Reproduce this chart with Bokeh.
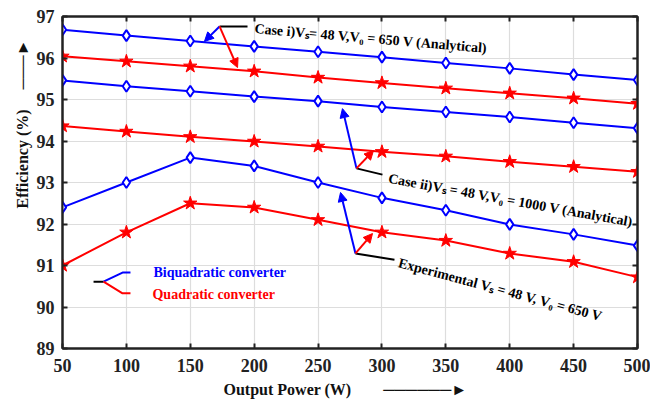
from bokeh.plotting import figure
from bokeh.models import (Arrow, NormalHead, Label, LinearAxis, FixedTicker, Range1d, Grid,
                          CustomJSTickFormatter, Title)
from bokeh.embed import file_html
from bokeh.resources import INLINE

power = [50, 100, 150, 200, 250, 300, 350, 400, 450, 500]
bi_case1 = [96.68, 96.54, 96.41, 96.28, 96.15, 96.02, 95.88, 95.75, 95.6, 95.47]
quad_case1 = [96.04, 95.92, 95.8, 95.68, 95.53, 95.4, 95.27, 95.15, 95.03, 94.9]
bi_case2 = [95.46, 95.32, 95.2, 95.07, 94.96, 94.82, 94.7, 94.58, 94.44, 94.31]
quad_case2 = [94.36, 94.23, 94.1, 93.99, 93.87, 93.74, 93.63, 93.5, 93.38, 93.26]
bi_exp = [92.4, 93.0, 93.6, 93.4, 93.0, 92.63, 92.33, 91.99, 91.75, 91.48]
quad_exp = [91.0, 91.8, 92.5, 92.4, 92.1, 91.8, 91.6, 91.29, 91.09, 90.72]
x_ticks = [50, 100, 150, 200, 250, 300, 350, 400, 450, 500]
y_ticks = [89, 90, 91, 92, 93, 94, 95, 96, 97]

BLUE = "#0000ff"
RED = "#ff0000"
FONT = "Liberation Serif"

p = figure(width=650, height=402, output_backend="svg", toolbar_location=None,
           x_range=Range1d(50, 500), y_range=Range1d(89, 97),
           min_border_left=62, min_border_right=13, min_border_top=16, min_border_bottom=54,
           x_axis_location=None, y_axis_location=None)
p.outline_line_color = "#222222"
p.outline_line_width = 2
p.background_fill_color = "white"

def style_axis(ax, ticks, labels=True):
    ax.ticker = FixedTicker(ticks=ticks)
    ax.major_tick_in = 5
    ax.major_tick_out = 0
    ax.minor_tick_line_color = None
    ax.axis_line_width = 2
    ax.axis_line_color = "#222222"
    ax.major_tick_line_width = 2
    ax.major_tick_line_color = "#222222"
    ax.major_label_text_font = FONT
    ax.major_label_text_font_style = "bold"
    ax.major_label_text_font_size = "18px"
    ax.major_label_text_color = "#222222"
    if not labels:
        ax.formatter = CustomJSTickFormatter(code="return ''")

xb = LinearAxis(); style_axis(xb, x_ticks); xb.major_label_standoff = 10
xt = LinearAxis(); style_axis(xt, x_ticks, labels=False)
yl = LinearAxis(); style_axis(yl, y_ticks); yl.major_label_standoff = 8
yr = LinearAxis(); style_axis(yr, y_ticks, labels=False)
p.add_layout(xb, "below")
p.add_layout(xt, "above")
p.add_layout(yl, "left")
p.add_layout(yr, "right")

# axis titles (outside the frame), each followed by its arrow
EM = "\u2003"
LINE = "\u2500"
HEAD = "\u25BA"
p.add_layout(Title(text="Efficiency (%)" + EM + " " + LINE * 3 + HEAD,
                   align="left", offset=140, standoff=6,
                   text_font=FONT, text_font_style="bold", text_font_size="16px",
                   text_color="#111111"), "left")
p.add_layout(Title(text="Output Power (W)" + EM * 2 + LINE * 6 + HEAD,
                   align="left", offset=161, standoff=8,
                   text_font=FONT, text_font_style="bold", text_font_size="16px",
                   text_color="#111111"), "below")

p.add_layout(Grid(dimension=0, ticker=FixedTicker(ticks=x_ticks), grid_line_color="#dddddd", grid_line_width=1.2))
p.add_layout(Grid(dimension=1, ticker=FixedTicker(ticks=y_ticks), grid_line_color="#dddddd", grid_line_width=1.2))

for ys in (bi_case1, bi_case2, bi_exp):
    p.line(power, ys, line_color=BLUE, line_width=2)
    p.scatter(power, ys, marker="diamond", size=11, line_color=BLUE, fill_color="white", line_width=2)
for ys in (quad_case1, quad_case2, quad_exp):
    p.line(power, ys, line_color=RED, line_width=2)
    p.scatter(power, ys, marker="star", size=14, line_color=RED, fill_color=RED, line_width=1)

def arrow(x0, y0, x1, y1, color, size=9):
    p.add_layout(Arrow(end=NormalHead(size=size, fill_color=color, line_color=color),
                       x_start=x0, y_start=y0, x_end=x1, y_end=y1,
                       line_color=color, line_width=2))

def seg(xs, ys, color):
    p.line(xs, ys, line_color=color, line_width=2)

def txt(x, y, s, angle=0.0, color="black", size="14px", align="left"):
    p.add_layout(Label(x=x, y=y, text=s, angle=angle, text_font=FONT, text_font_style="bold",
                       text_font_size=size, text_color=color, text_baseline="middle", text_align=align))

# Case i annotation
seg([172.9, 194.8], [96.76, 96.76], "black")
arrow(172.9, 96.76, 161.1, 96.40, BLUE)
arrow(172.9, 96.76, 187.0, 95.77, RED)
txt(200.3, 96.71, "Case i)V\u209b= 48 V,V\u2080 = 650 V (Analytical)", angle=-0.085)

# Case ii annotation
seg([280.1, 300.4], [93.34, 93.19], "black")
arrow(280.1, 93.34, 269.1, 94.78, BLUE)
arrow(280.1, 93.34, 293.4, 93.77, RED)
txt(305.1, 93.10, "Case ii)V\u209b = 48 V,V\u2080 = 1000 V (Analytical)", angle=-0.178)

# Experimental annotation
seg([279.3, 309.8], [91.29, 91.14], "black")
arrow(279.3, 91.29, 267.6, 92.76, BLUE)
arrow(279.3, 91.29, 292.6, 91.77, RED)
txt(313.0, 91.07, "Experimental V\u209b = 48 V, V\u2080 = 650 V", angle=-0.26)

# Legend
seg([74.3, 82.1], [90.61, 90.61], "black")
seg([82.1, 97.0, 103.2], [90.61, 90.83, 90.83], BLUE)
seg([82.1, 97.0, 103.2], [90.61, 90.33, 90.33], RED)
txt(121.2, 90.83, "Biquadratic converter", color=BLUE)
txt(120.4, 90.31, "Quadratic converter", color=RED)

open("out.html", "w").write(file_html(p, INLINE))
